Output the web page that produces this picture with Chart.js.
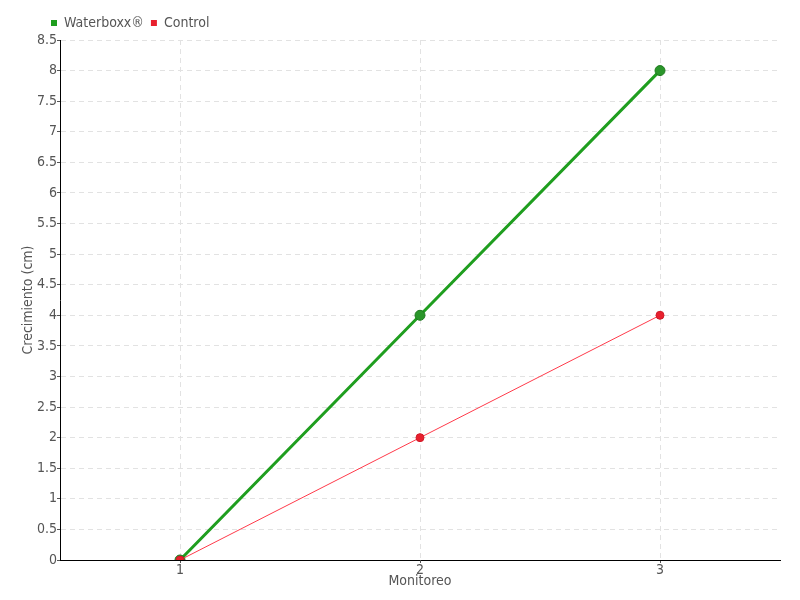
<!DOCTYPE html>
<html>
<head>
<meta charset="utf-8">
<script src="https://cdn.jsdelivr.net/npm/chart.js@4/dist/chart.umd.min.js"></script>
<style>
  html, body { margin: 0; padding: 0; background: #fff; }
  #wrap { width: 800px; height: 600px; }
</style>
</head>
<body>
<div id="wrap"><canvas id="chart" width="800" height="600"></canvas></div>
<script>
// datos
const labels = ['1', '2', '3'];
const waterboxx = [0, 4, 8];
const control = [0, 2, 4];

const FONT = "'DejaVu Sans Condensed', 'Liberation Sans Narrow', sans-serif";
Chart.defaults.font.family = FONT;
Chart.defaults.color = '#555';

// mover la leyenda a la derecha, como en el original
const legendShift = {
  id: 'legendShift',
  afterLayout(chart) {
    chart.legend.left = 44;
  }
};

const ctx = document.getElementById('chart').getContext('2d');
new Chart(ctx, {
  type: 'line',
  data: {
    labels: labels,
    datasets: [
      {
        label: 'Waterboxx®',
        data: waterboxx,
        borderColor: '#1f9e1f',
        backgroundColor: '#1f9e1f',
        borderWidth: 3,
        pointRadius: 5,
        pointBackgroundColor: '#2a962a',
        pointBorderColor: '#1f7a1f',
        pointBorderWidth: 1,
        order: 2
      },
      {
        label: 'Control',
        data: control,
        borderColor: '#ff3a4a',
        backgroundColor: '#e8202e',
        borderWidth: 1,
        pointRadius: 4,
        pointBackgroundColor: '#e8202e',
        pointBorderColor: '#d01a28',
        pointBorderWidth: 1,
        order: 1
      }
    ]
  },
  plugins: [legendShift],
  options: {
    responsive: false,
    animation: false,
    layout: { padding: { top: 9, right: 20, left: 0, bottom: 0 } },
    plugins: {
      legend: {
        position: 'top',
        align: 'start',
        labels: {
          boxWidth: 6,
          boxHeight: 6,
          padding: 7,
          color: '#555',
          font: { size: 14 },
          generateLabels(chart) {
            const items = Chart.defaults.plugins.legend.labels.generateLabels(chart);
            items.forEach(it => { it.lineWidth = 0; });
            return items;
          },
          sort: (a, b) => a.datasetIndex - b.datasetIndex
        }
      },
      tooltip: { enabled: false }
    },
    scales: {
      x: {
        offset: true,
        afterFit: s => { s.height = 40; },
        grid: {
          color: '#e2e2e2',
          tickColor: '#555',
          tickLength: 3,
          offset: false
        },
        border: { color: '#000', width: 1, dash: [5, 4] },
        ticks: { color: '#555', font: { size: 14, lineHeight: 1 }, padding: 0 },
        title: { display: true, text: 'Monitoreo', color: '#555', font: { size: 14, lineHeight: 1 }, padding: { top: 12, bottom: 12 } }
      },
      y: {
        min: 0,
        max: 8.5,
        afterFit: s => { s.width = 60; },
        grid: {
          color: '#e2e2e2',
          tickColor: '#555',
          tickLength: 3
        },
        border: { color: '#000', width: 1, dash: [5, 4] },
        ticks: {
          stepSize: 0.5,
          color: '#555',
          font: { size: 14 },
          padding: 0,
          callback: v => String(v)
        },
        title: { display: true, text: 'Crecimiento (cm)', color: '#555', font: { size: 14 }, padding: { top: 20, bottom: 0 } }
      }
    }
  }
});
</script>
</body>
</html>
